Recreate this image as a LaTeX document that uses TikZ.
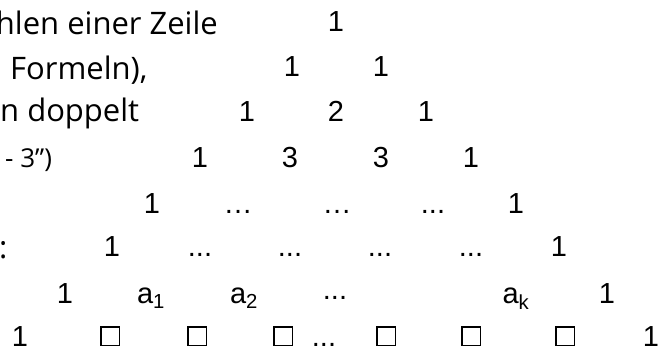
\documentclass[tikz,border=0pt]{standalone}
\usepackage{fontspec}
\setmainfont{Liberation Sans}
\newfontfamily\handfont{Open Sans}

\begin{document}
\begin{tikzpicture}[
    x=1pt, y=1pt,
    num/.style={anchor=base, inner sep=0pt, font=\fontsize{29}{31}\selectfont},
    note/.style={anchor=base west, inner sep=0pt, font=\handfont\fontsize{31}{33}\selectfont},
    box/.style={draw, line width=1.5pt, minimum size=18.5pt, inner sep=0pt}
]
\useasboundingbox (0,0) rectangle (668,351);
\clip (0,0) rectangle (668,351);

% Left text (cut off at the edge)
\node[note, anchor=base east] (n1) at (218,316) {hlen einer Zeile};
\node[note] (n2) at (10,271) {Formeln),};
\node[note] (n3) at (0,229) {n doppelt};
\node[note, font=\handfont\fontsize{26}{28}\selectfont] (n4) at (5,184) {- 3”)};
\node[note] (n6) at (-1,93) {:};

% Row 1 to 4
\node[num] (p11) at (336,319) {1};
\node[num] (p21) at (292,274) {1};
\node[num] (p22) at (381,274) {1};
\node[num] (p31) at (247,229) {1};
\node[num] (p32) at (336,229) {2};
\node[num] (p33) at (426,229) {1};
\node[num] (p41) at (200,184) {1};
\node[num] (p42) at (290,184) {3};
\node[num] (p43) at (381,184) {3};
\node[num] (p44) at (471,184) {1};

% Row 5 and 6
\node[num] (p51) at (152,138) {1};
\node[num] (p52) at (238,138) {…};
\node[num] (p53) at (337,138) {…};
\node[num] (p54) at (433,138) {...};
\node[num] (p55) at (516,138) {1};
\node[num] (p61) at (112,95) {1};
\node[num] (p62) at (200,95) {...};
\node[num] (p63) at (290,95) {...};
\node[num] (p64) at (380,95) {...};
\node[num] (p65) at (471,95) {...};
\node[num] (p66) at (559,95) {1};

% Row 7
\node[num] (p71) at (65,48) {1};
\node[num] (p72) at (151,48) {a\textsubscript{1}};
\node[num] (p73) at (244,48) {a\textsubscript{2}};
\node[num] (p74) at (335,52) {...};
\node[num] (p75) at (516,48) {a\textsubscript{k}};
\node[num] (p76) at (607,48) {1};

% Row 8
\node[num] (p81) at (20,5) {1};
\node[box] (b1) at (110,15) {};
\node[box] (b2) at (197,15) {};
\node[box] (b3) at (283,15) {};
\node[num] (p82) at (324,5) {...};
\node[box] (b4) at (386,15) {};
\node[box] (b5) at (471,15) {};
\node[box] (b6) at (565,15) {};
\node[num] (p83) at (651,5) {1};

\end{tikzpicture}
\end{document}
